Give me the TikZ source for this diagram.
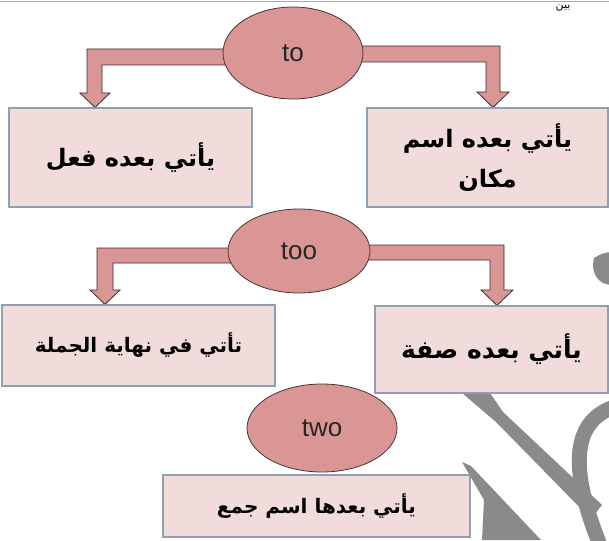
\documentclass[tikz,border=0pt]{standalone}
\usepackage{fontspec}
\setmainfont{Liberation Sans}
\newfontfamily\arabicfont[Script=Arabic]{DejaVu Sans}
\TeXXeTstate=1
\usetikzlibrary{shapes.geometric,backgrounds,calc}
\definecolor{boxfill}{HTML}{F2DCDB}
\definecolor{boxline}{HTML}{8FA0B3}
\definecolor{ovalfill}{HTML}{D99694}
\definecolor{ovalline}{HTML}{4A3434}
\definecolor{arrowline}{HTML}{3A2E2E}
\definecolor{wmark}{HTML}{8A8A8A}
\tikzset{
  box/.style={draw=boxline, fill=boxfill, line width=1.2pt, inner sep=0pt,
    align=center, font=\arabicfont\bfseries\fontsize{24}{40}\selectfont},
  oval/.style={ellipse, draw=ovalline, fill=ovalfill, line width=0.8pt, inner sep=0pt,
    text=black!85, font=\fontsize{26}{28}\selectfont},
  bent/.style={draw=arrowline, fill=ovalfill, line width=0.8pt, line join=miter},
  wm/.style={fill=wmark, draw=none},
}
\begin{document}
\begin{tikzpicture}[x=1pt,y=-1pt]
\useasboundingbox (0,0) rectangle (609,540);
\clip (0,0) rectangle (609,540);
% page remnants at the top
\draw[black!35, line width=0.8pt] (0,1) -- (609,1);
\node[anchor=north, inner sep=0pt, font=\arabicfont\fontsize{11}{12}\selectfont] (cut) at (563,5) {\beginR بين\endR};
% watermark
\path[wm] (462,393) -- (490,393) -- (503,412) -- (602,505) -- (591,519) -- (496,422) -- cycle;
\path[wm] (462,462) -- (471,466) -- (541,540) -- (482,540) -- (484,500) -- cycle;
\draw[wmark, line width=15pt] (600,545) .. controls (578,490) and (562,425) .. (614,407);
\path[wm] (594,258) .. controls (600,254) and (606,252) .. (612,252) -- (612,285) .. controls (600,285) and (590,275) .. cycle;
% ellipses
\node[oval, minimum width=140pt, minimum height=92pt] (to) at (293,53) {to};
\node[oval, minimum width=142pt, minimum height=84pt] (too) at (299,251) {too};
\node[oval, minimum width=150pt, minimum height=88pt] (two) at (322,428) {two};
% boxes
\node[box, minimum width=243pt, minimum height=99pt] (b1l) at (130.5,157.5) {\beginR يأتي بعده فعل\endR};
\node[box, minimum width=241pt, minimum height=99pt] (b1r) at (487.5,157.5) {\beginR يأتي بعده اسم\endR\\\beginR مكان\endR};
\node[box, minimum width=273pt, minimum height=81pt, font=\arabicfont\bfseries\fontsize{20}{24}\selectfont] (b2l) at (138.5,345.5) {\beginR تأتي في نهاية الجملة\endR};
\node[box, minimum width=233pt, minimum height=87pt, font=\arabicfont\bfseries\fontsize{25}{30}\selectfont] (b2r) at (491.5,349.5) {\beginR يأتي بعده صفة\endR};
\node[box, minimum width=307pt, minimum height=62pt, font=\arabicfont\bfseries\fontsize{20}{24}\selectfont] (b3) at (316.5,506) {\beginR يأتي بعدها اسم جمع\endR};
% bent block arrows, behind the ellipses
\begin{scope}[on background layer]
\path[bent] ($(to.center)+(0,-4)$) -- (87,49) -- (87,93) -- (80,93) -- (b1l.north -| 95,0) -- (110,93) -- (102,93) -- (102,65) -- ($(to.center)+(0,12)$) -- cycle;
\path[bent] ($(to.center)+(0,-7)$) -- (500,46) -- (500,92) -- (509,92) -- (b1r.north -| 493,0) -- (477,92) -- (486,92) -- (486,62) -- ($(to.center)+(0,9)$) -- cycle;
\path[bent] ($(too.center)+(0,-3)$) -- (97,248) -- (97,290) -- (90,290) -- (b2l.north -| 105,0) -- (120,290) -- (113,290) -- (113,263) -- ($(too.center)+(0,12)$) -- cycle;
\path[bent] ($(too.center)+(0,-6)$) -- (504,245) -- (504,290) -- (513,290) -- (b2r.north -| 497,0) -- (481,290) -- (490,290) -- (490,260) -- ($(too.center)+(0,9)$) -- cycle;
\end{scope}
\end{tikzpicture}
\end{document}
